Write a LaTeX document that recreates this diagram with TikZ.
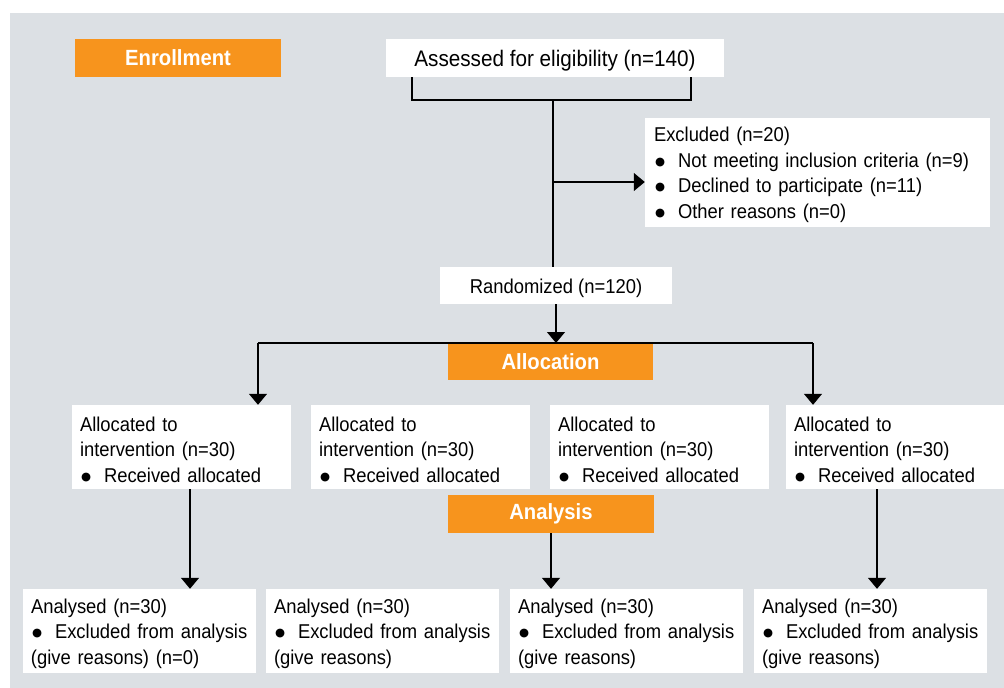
\documentclass[tikz,border=0pt]{standalone}
\usepackage{fontspec}
\setmainfont{Liberation Sans}[FakeStretch=0.92]
\newfontfamily\bulfont{DejaVu Sans}
\usetikzlibrary{arrows.meta}
\definecolor{bggrey}{HTML}{DCE0E4}
\definecolor{cons}{HTML}{F7941D}
\newcommand{\bul}{\makebox[24pt][l]{\hspace{1pt}{\bulfont\fontsize{11.5}{12}\selectfont\raisebox{2pt}{●}}}}
\newcommand{\topstrut}{\rule{0pt}{19.5pt}}
\tikzset{
  wbox/.style={fill=white, draw=none, inner sep=0pt, align=left,
    font={\fontsize{20}{25.5}\selectfont}},
  obox/.style={fill=cons, draw=none, inner sep=0pt, text=white,
    font={\fontsize{22}{24}\selectfont\bfseries}},
  conn/.style={line width=1.3pt, draw=black},
  arr/.style={conn, -{Triangle[width=18pt,length=11pt]}}
}
\begin{document}
\begin{tikzpicture}[x=1pt,y=-1pt]
\useasboundingbox (0,0) rectangle (1004,688);
\fill[bggrey] (10,13) rectangle (1004,688);
% phase labels
\node[obox, minimum width=206pt, minimum height=38pt] (enroll) at (178,58) {Enrollment};
\node[obox, minimum width=205pt, minimum height=36pt] (alloc) at (550.5,362) {Allocation};
\node[obox, minimum width=206pt, minimum height=38pt] (anal) at (551,514) {Analysis};
% boxes
\node[wbox, align=center, minimum width=338pt, minimum height=38pt,
  font={\fontsize{22.5}{25.5}\selectfont}] (assess) at (555,58) {\rule{0pt}{21pt}Assessed for eligibility (n=140)};
\node[wbox, minimum width=345pt, minimum height=109pt, text width=327pt] (excl) at (817.5,172.5)
  {\topstrut Excluded (n=20)\\\bul Not meeting inclusion criteria (n=9)\\\bul Declined to participate (n=11)\\\bul Other reasons (n=0)};
\node[wbox, align=center, minimum width=232pt, minimum height=37pt] (rand) at (556,285.5) {\topstrut Randomized (n=120)};
\node[wbox, minimum width=219pt, minimum height=84pt, text width=203pt] (a1) at (181.5,447)
  {\topstrut Allocated to\\intervention (n=30)\\\bul Received allocated};
\node[wbox, minimum width=219pt, minimum height=84pt, text width=203pt] (a2) at (420.5,447)
  {\topstrut Allocated to\\intervention (n=30)\\\bul Received allocated};
\node[wbox, minimum width=219pt, minimum height=84pt, text width=203pt] (a3) at (659.5,447)
  {\topstrut Allocated to\\intervention (n=30)\\\bul Received allocated};
\node[wbox, minimum width=218pt, minimum height=84pt, text width=202pt] (a4) at (895,447)
  {\topstrut Allocated to\\intervention (n=30)\\\bul Received allocated};
\node[wbox, minimum width=233pt, minimum height=84pt, text width=217pt] (n1) at (139.5,631)
  {\topstrut Analysed (n=30)\\\bul\mbox{Excluded from analysis}\\(give reasons) (n=0)};
\node[wbox, minimum width=233pt, minimum height=84pt, text width=217pt] (n2) at (382.5,631)
  {\topstrut Analysed (n=30)\\\bul\mbox{Excluded from analysis}\\(give reasons)};
\node[wbox, minimum width=233pt, minimum height=84pt, text width=217pt] (n3) at (626.5,631)
  {\topstrut Analysed (n=30)\\\bul\mbox{Excluded from analysis}\\(give reasons)};
\node[wbox, minimum width=233pt, minimum height=84pt, text width=217pt] (n4) at (870.5,631)
  {\topstrut Analysed (n=30)\\\bul\mbox{Excluded from analysis}\\(give reasons)};
% connectors
\coordinate (brL) at (412,100);
\coordinate (brR) at (691,100);
\coordinate (brM) at (553,100);
\coordinate (exJ) at (553,182);
\draw[conn] (assess.south -| brL) -- (brL) -- (brR) -- (assess.south -| brR);
\draw[conn] (brM) -- (rand.north -| brM);
\draw[arr] (exJ) -- (exJ -| excl.west);
\coordinate (alL) at (258,343);
\coordinate (alR) at (813,343);
\draw[arr] (rand.south) -- (rand.south |- alL);
\draw[conn] (alL) -- (alR);
\draw[arr] (alL) -- (alL |- a1.north);
\draw[arr] (alR) -- (alR |- a4.north);
\coordinate (d1) at (190,489);
\coordinate (d4) at (877,489);
\draw[arr] (d1) -- (d1 |- n1.north);
\draw[arr] (anal.south) -- (anal.south |- n3.north);
\draw[arr] (d4) -- (d4 |- n4.north);
\end{tikzpicture}
\end{document}
